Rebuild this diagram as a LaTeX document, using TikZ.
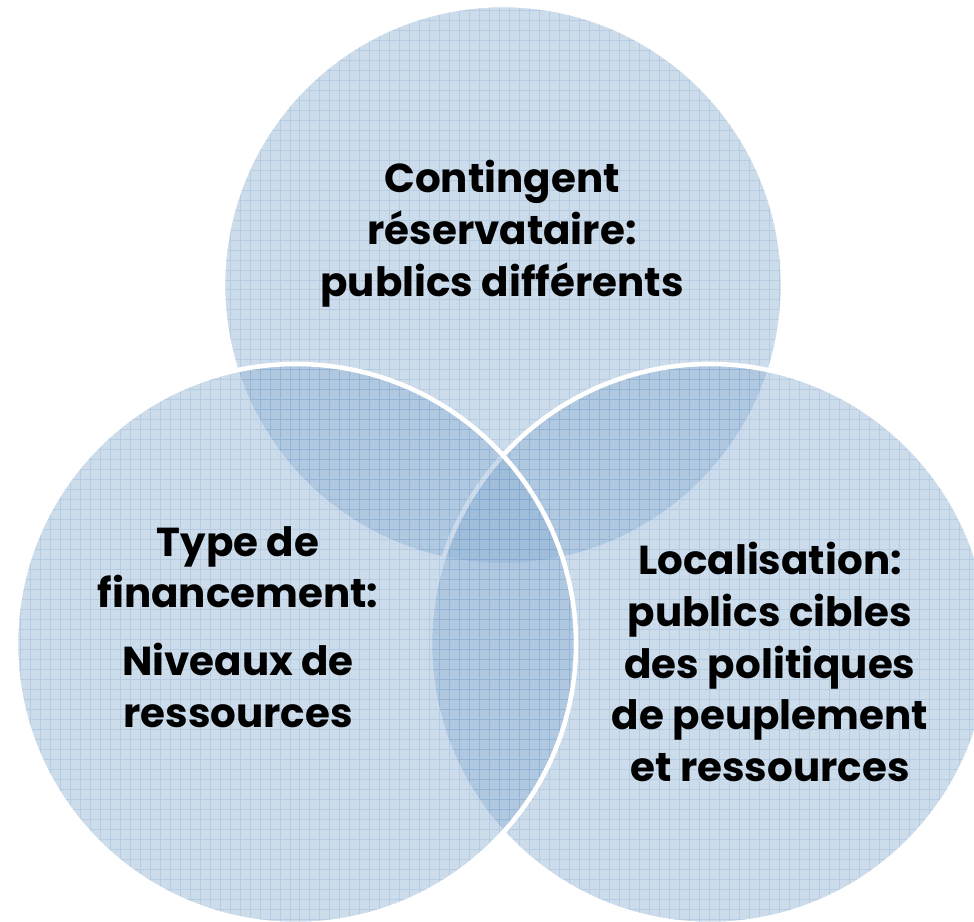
\documentclass[tikz,border=0pt]{standalone}
\usepackage{fontspec}
\setmainfont{Poppins}
\definecolor{vennblue}{RGB}{140,175,210}
\definecolor{gridblue}{RGB}{90,140,195}
\tikzset{
  vennfill/.style={fill=vennblue, fill opacity=0.44},
  venngrid/.style={draw=gridblue, opacity=0.2, line width=0.5pt},
  vennline/.style={draw=white, line width=2.6pt},
  venntext/.style={align=center, font=\fontsize{23}{29.5}\selectfont\bfseries, text=black}
}
\begin{document}
\begin{tikzpicture}[x=0.02cm,y=-0.02cm]
            \useasboundingbox (0,0) rectangle (974,922);
            \clip (0,0) rectangle (974,922);
            \fill[vennfill] (503,285) circle (280);
            \begin{scope}
              \clip (503,285) circle (280);
              \draw[venngrid, step=0.2cm] (200,0) grid (800,580);
            \end{scope}
            \draw[vennline] (503,285) circle (280);
            \fill[vennfill] (710,644) circle (280);
            \begin{scope}
              \clip (710,644) circle (280);
              \draw[venngrid, step=0.2cm] (420,360) grid (1000,930);
            \end{scope}
            \draw[vennline] (710,644) circle (280);
            \fill[vennfill] (296,644) circle (280);
            \begin{scope}
              \clip (296,644) circle (280);
              \draw[venngrid, step=0.2cm] (0,360) grid (580,930);
            \end{scope}
            \draw[vennline] (296,644) circle (280);
            \node[venntext] (contingent) at (502,234) {Contingent\\r\'eservataire:\\publics diff\'erents};
            \node[venntext] (financement) at (238,627) {Type de\\financement:\\[9pt]Niveaux de\\ressources};
            \node[venntext] (localisation) at (770,662) {Localisation:\\publics cibles\\des politiques\\de peuplement\\et ressources};
        \end{tikzpicture}
\end{document}
